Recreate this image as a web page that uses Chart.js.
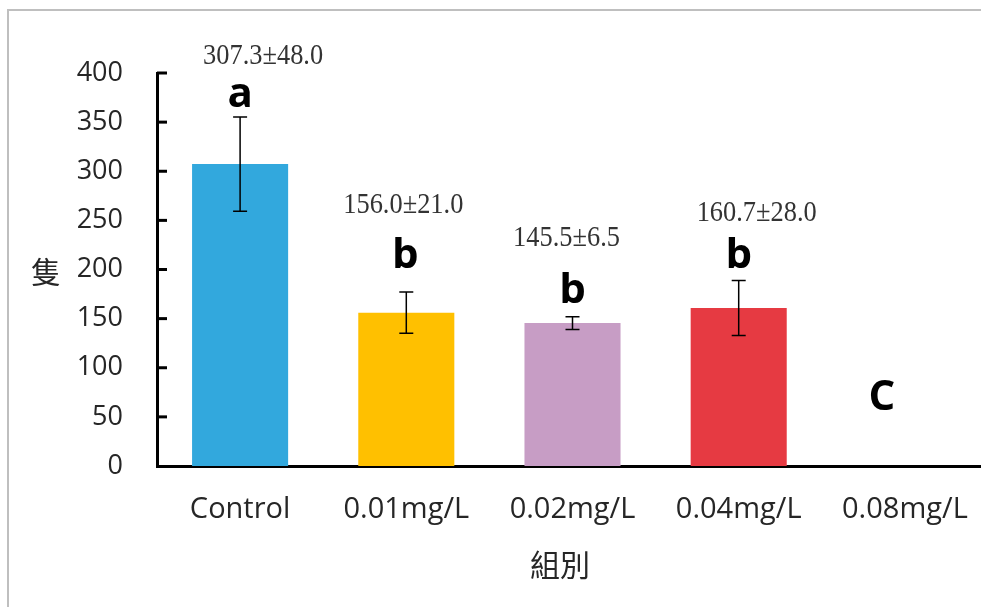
<!DOCTYPE html>
<html lang="zh-Hant">
<head>
    <meta charset="UTF-8">
    <title>組別 vs 隻</title>
    <script src="https://cdn.jsdelivr.net/npm/chart.js"></script>
    <style>
        body {
            margin: 0;
            background: #fff;
            overflow: hidden;
        }
        .chart-container {
            width: 981px;
            height: 607px;
            overflow: hidden;
        }
    </style>
</head>
<body>
    <div class="chart-container">
        <canvas id="countChart" width="995" height="607"></canvas>
    </div>

    <script>
        // data
        const groups = ['Control', '0.01mg/L', '0.02mg/L', '0.04mg/L', '0.08mg/L'];
        const means = [307.3, 156.0, 145.5, 160.7, 0];
        const sds = [48.0, 21.0, 6.5, 28.0, 0];
        const letters = ['a', 'b', 'b', 'b', 'C'];
        const yTicks = [0, 50, 100, 150, 200, 250, 300, 350, 400];
        const barColors = ['#32A8DD', '#FFC000', '#C79DC5', '#E63A42', '#888888'];

        // hand placement of the annotations, px relative to the error bar top
        const labelShift = [[23, -61], [-3, -87], [-6, -79], [18, -67], null];
        const letterShift = [[0, -10], [-1, -24], [0, -14], [0, -13], [-23, -56]];

        const decor = {
            id: 'decor',
            beforeDraw(chart) {
                const ctx = chart.ctx;
                ctx.save();
                ctx.strokeStyle = '#BFBFBF';
                ctx.lineWidth = 2;
                ctx.beginPath();
                ctx.moveTo(8, chart.height);
                ctx.lineTo(8, 10);
                ctx.lineTo(chart.width, 10);
                ctx.stroke();
                ctx.restore();
            },
            afterDatasetsDraw(chart) {
                const { ctx, chartArea } = chart;
                const y = chart.scales.y;
                const meta = chart.getDatasetMeta(0);
                ctx.save();

                // inner tick marks on the y axis
                ctx.strokeStyle = '#000';
                ctx.lineWidth = 3;
                y.ticks.forEach(t => {
                    if (t.value === 0) return;
                    const py = y.getPixelForValue(t.value);
                    ctx.beginPath();
                    ctx.moveTo(chartArea.left, py);
                    ctx.lineTo(chartArea.left + 10, py);
                    ctx.stroke();
                });

                // error bars
                ctx.lineWidth = 1.5;
                meta.data.forEach((bar, i) => {
                    if (!sds[i]) return;
                    const top = y.getPixelForValue(means[i] + sds[i]);
                    const bot = y.getPixelForValue(means[i] - sds[i]);
                    ctx.beginPath();
                    ctx.moveTo(bar.x, top);
                    ctx.lineTo(bar.x, bot);
                    ctx.moveTo(bar.x - 7, top);
                    ctx.lineTo(bar.x + 7, top);
                    ctx.moveTo(bar.x - 7, bot);
                    ctx.lineTo(bar.x + 7, bot);
                    ctx.stroke();
                });

                // mean±sd labels and significance letters
                meta.data.forEach((bar, i) => {
                    const top = y.getPixelForValue(means[i] + sds[i]);
                    if (labelShift[i]) {
                        const txt = means[i].toFixed(1) + '±' + sds[i].toFixed(1);
                        ctx.save();
                        ctx.translate(bar.x + labelShift[i][0], top + labelShift[i][1]);
                        ctx.scale(0.88, 1);
                        ctx.font = '30px "Liberation Serif"';
                        ctx.fillStyle = '#333';
                        ctx.textAlign = 'center';
                        ctx.textBaseline = 'middle';
                        ctx.fillText(txt, 0, 0);
                        ctx.restore();
                    }
                    ctx.font = 'bold 42px "Open Sans"';
                    ctx.fillStyle = '#000';
                    ctx.textAlign = 'center';
                    ctx.textBaseline = 'alphabetic';
                    ctx.fillText(letters[i], bar.x + letterShift[i][0], top + letterShift[i][1]);
                });

                // axis titles
                ctx.font = '30px "Noto Sans CJK TC"';
                ctx.fillStyle = '#262626';
                ctx.textAlign = 'center';
                ctx.textBaseline = 'middle';
                ctx.fillText('隻', 46, 272);
                ctx.fillText('組別', 560, 565);

                ctx.restore();
            }
        };

        const ctx = document.getElementById('countChart').getContext('2d');
        new Chart(ctx, {
            type: 'bar',
            data: {
                labels: groups,
                datasets: [{
                    data: means,
                    backgroundColor: barColors,
                    barPercentage: 0.578,
                    categoryPercentage: 1.0
                }]
            },
            options: {
                responsive: false,
                animation: false,
                layout: { padding: { left: 0, right: 7, top: 73, bottom: 0 } },
                plugins: {
                    legend: { display: false },
                    tooltip: { enabled: false }
                },
                scales: {
                    x: {
                        grid: { display: false, drawTicks: false },
                        border: { display: true, color: '#000', width: 3 },
                        ticks: {
                            font: { family: 'Open Sans', size: 29 },
                            color: '#262626',
                            padding: 26,
                            maxRotation: 0
                        },
                        afterFit: s => { s.height = 141; }
                    },
                    y: {
                        min: 0,
                        max: 400,
                        grid: { display: false, drawTicks: false },
                        border: { display: true, color: '#000', width: 3 },
                        afterBuildTicks: s => { s.ticks = yTicks.map(v => ({ value: v })); },
                        ticks: {
                            font: { family: 'Open Sans', size: 27 },
                            color: '#262626',
                            padding: 34
                        },
                        afterFit: s => { s.width = 157; }
                    }
                }
            },
            plugins: [decor]
        });
    </script>
</body>
</html>
